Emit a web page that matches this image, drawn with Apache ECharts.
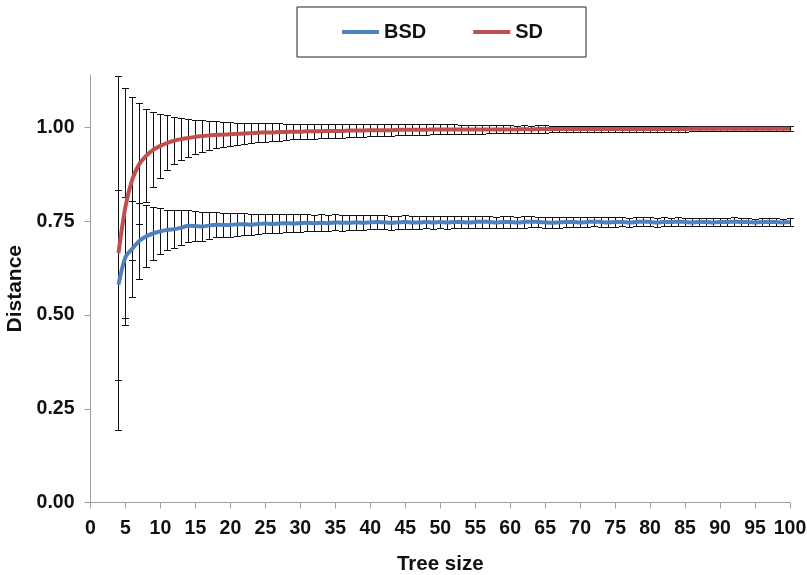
<!DOCTYPE html>
<html>
<head>
<meta charset="utf-8">
<script src="https://cdn.jsdelivr.net/npm/echarts@6/dist/echarts.min.js"></script>
<style>
html,body{margin:0;padding:0;background:#fff;}
#chart{width:807px;height:575px;}
</style>
</head>
<body>
<div id="chart"></div>
<script>
const treeSize = [4,5,6,7,8,9,10,11,12,13,14,15,16,17,18,19,20,21,22,23,24,25,26,27,28,29,30,31,32,33,34,35,36,37,38,39,40,41,42,43,44,45,46,47,48,49,50,51,52,53,54,55,56,57,58,59,60,61,62,63,64,65,66,67,68,69,70,71,72,73,74,75,76,77,78,79,80,81,82,83,84,85,86,87,88,89,90,91,92,93,94,95,96,97,98,99,100];

const bsdMean = [0.581,0.654,0.677,0.698,0.710,0.718,0.723,0.727,0.729,0.733,0.738,0.737,0.736,0.739,0.741,0.740,0.740,0.742,0.742,0.741,0.743,0.744,0.743,0.744,0.745,0.744,0.745,0.746,0.745,0.746,0.745,0.747,0.746,0.746,0.747,0.746,0.747,0.748,0.747,0.746,0.747,0.748,0.747,0.747,0.748,0.747,0.748,0.747,0.748,0.748,0.747,0.748,0.749,0.748,0.747,0.748,0.748,0.747,0.748,0.749,0.748,0.747,0.746,0.747,0.748,0.748,0.747,0.748,0.749,0.748,0.747,0.748,0.748,0.747,0.748,0.749,0.748,0.747,0.748,0.748,0.749,0.748,0.747,0.748,0.748,0.747,0.748,0.748,0.749,0.748,0.748,0.747,0.748,0.748,0.748,0.747,0.748];

const bsdErr = [0.253,0.161,0.128,0.102,0.083,0.071,0.061,0.054,0.050,0.046,0.043,0.040,0.038,0.036,0.034,0.033,0.031,0.030,0.029,0.028,0.027,0.026,0.025,0.025,0.024,0.024,0.023,0.023,0.022,0.022,0.021,0.021,0.021,0.020,0.020,0.020,0.019,0.019,0.019,0.019,0.018,0.018,0.018,0.018,0.017,0.017,0.017,0.017,0.017,0.016,0.016,0.016,0.016,0.016,0.015,0.015,0.015,0.015,0.015,0.015,0.014,0.014,0.014,0.014,0.014,0.014,0.013,0.013,0.013,0.013,0.013,0.013,0.012,0.012,0.012,0.012,0.012,0.012,0.012,0.011,0.011,0.011,0.011,0.011,0.011,0.011,0.011,0.011,0.011,0.011,0.011,0.010,0.010,0.010,0.010,0.010,0.010];

const sdMean = [0.665,0.789,0.863,0.903,0.925,0.941,0.951,0.959,0.965,0.969,0.972,0.975,0.977,0.979,0.980,0.981,0.982,0.983,0.984,0.985,0.986,0.987,0.987,0.988,0.988,0.989,0.989,0.990,0.990,0.990,0.991,0.991,0.991,0.992,0.992,0.992,0.993,0.993,0.993,0.993,0.994,0.994,0.994,0.994,0.994,0.995,0.995,0.995,0.995,0.995,0.995,0.995,0.995,0.995,0.995,0.995,0.995,0.995,0.996,0.995,0.996,0.996,0.996,0.996,0.996,0.996,0.996,0.996,0.996,0.996,0.996,0.996,0.996,0.996,0.996,0.996,0.996,0.996,0.996,0.996,0.996,0.996,0.997,0.997,0.997,0.997,0.997,0.997,0.997,0.997,0.997,0.997,0.997,0.997,0.997,0.997,0.997];

const sdErr = [0.472,0.316,0.217,0.161,0.125,0.101,0.085,0.073,0.063,0.056,0.050,0.046,0.042,0.039,0.036,0.034,0.032,0.030,0.028,0.027,0.026,0.025,0.024,0.023,0.022,0.021,0.021,0.020,0.020,0.019,0.019,0.018,0.018,0.017,0.017,0.017,0.016,0.016,0.016,0.015,0.015,0.015,0.014,0.014,0.014,0.013,0.013,0.013,0.013,0.012,0.012,0.012,0.012,0.011,0.011,0.011,0.011,0.010,0.010,0.010,0.010,0.010,0.009,0.009,0.009,0.009,0.009,0.008,0.008,0.008,0.008,0.008,0.008,0.008,0.008,0.008,0.008,0.007,0.007,0.007,0.007,0.007,0.007,0.007,0.007,0.007,0.007,0.006,0.006,0.006,0.006,0.006,0.006,0.006,0.006,0.006,0.006];

const yTicks = [0, 0.25, 0.5, 0.75, 1.0];
const seriesNames = ['BSD', 'SD'];

const FONT = "'Liberation Sans', Arial, sans-serif";

function pairs(xs, ys) { return xs.map((x, i) => [x, ys[i]]); }
function errData(xs, m, e) { return xs.map((x, i) => [x, m[i] - e[i], m[i] + e[i]]); }

function renderErr(params, api) {
  const x = api.value(0), lo = api.value(1), hi = api.value(2);
  const pTop = api.coord([x, hi]);
  const pBot = api.coord([x, lo]);
  const cx = Math.round(pTop[0]) + 0.5;
  const yt = Math.round(pTop[1]) + 0.5;
  const yb = Math.round(pBot[1]) + 0.5;
  const w = 3.5;
  const st = { stroke: '#111', lineWidth: 1 };
  return {
    type: 'group',
    children: [
      { type: 'line', shape: { x1: cx, y1: yt, x2: cx, y2: yb }, style: st },
      { type: 'line', shape: { x1: cx - w, y1: yt, x2: cx + w, y2: yt }, style: st },
      { type: 'line', shape: { x1: cx - w, y1: yb, x2: cx + w, y2: yb }, style: st }
    ]
  };
}

const chart = echarts.init(document.getElementById('chart'), null, { renderer: 'canvas' });
chart.setOption({
  backgroundColor: '#fff',
  animation: false,
  textStyle: { fontFamily: FONT },
  legend: {
    left: 297, top: 7,
    padding: [15, 43, 15, 45],
    borderColor: '#222', borderWidth: 1,
    icon: 'rect',
    itemWidth: 37, itemHeight: 4, itemGap: 47,
    data: seriesNames,
    textStyle: { fontFamily: FONT, fontSize: 20, fontWeight: 'bold', color: '#111' }
  },
  grid: { left: 90.5, right: 17, top: 75, bottom: 72.5, containLabel: false, outerBoundsMode: 'none' },
  xAxis: {
    type: 'value', min: 0, max: 100, interval: 5,
    name: 'Tree size', nameLocation: 'middle', nameGap: 51,
    nameTextStyle: { fontFamily: FONT, fontSize: 20.5, fontWeight: 'bold', color: '#111' },
    axisLine: { lineStyle: { color: '#a0a0a0', width: 1 } },
    axisTick: { show: true, length: 6, lineStyle: { color: '#a0a0a0' } },
    axisLabel: { fontFamily: FONT, fontSize: 19.5, fontWeight: 'bold', color: '#111', margin: 16 },
    splitLine: { show: false }
  },
  yAxis: {
    type: 'value', min: 0, max: 1.14, interval: 0.25,
    name: 'Distance', nameLocation: 'middle', nameGap: 59,
    nameTextStyle: { fontFamily: FONT, fontSize: 21, fontWeight: 'bold', color: '#111' },
    axisLine: { show: true, lineStyle: { color: '#a0a0a0', width: 1 } },
    axisTick: { show: true, length: 6, lineStyle: { color: '#a0a0a0' }, customValues: yTicks },
    axisLabel: { fontFamily: FONT, fontSize: 19.5, fontWeight: 'bold', color: '#111', margin: 16,
      customValues: yTicks, formatter: v => v.toFixed(2) },
    splitLine: { show: false }
  },
  series: [
    { name: 'BSD err', type: 'custom', renderItem: renderErr, data: errData(treeSize, bsdMean, bsdErr), z: 1, silent: true, encode: { x: 0, y: [1, 2] } },
    { name: 'SD err', type: 'custom', renderItem: renderErr, data: errData(treeSize, sdMean, sdErr), z: 1, silent: true, encode: { x: 0, y: [1, 2] } },
    { name: 'BSD', type: 'line', data: pairs(treeSize, bsdMean), symbol: 'none', smooth: 0.3, z: 3,
      lineStyle: { color: '#4F81BD', width: 4 }, itemStyle: { color: '#4F81BD' } },
    { name: 'SD', type: 'line', data: pairs(treeSize, sdMean), symbol: 'none', smooth: 0.3, z: 3,
      lineStyle: { color: '#C0504D', width: 4 }, itemStyle: { color: '#C0504D' } }
  ]
});
</script>
</body>
</html>
